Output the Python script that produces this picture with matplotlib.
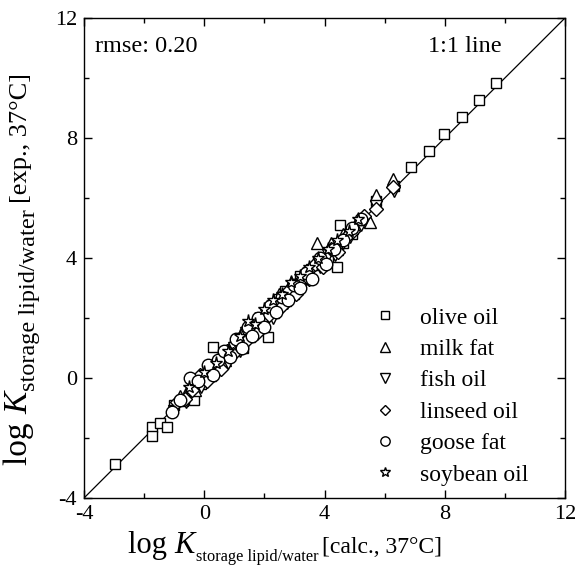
import matplotlib
matplotlib.use('Agg')
import matplotlib.pyplot as plt

plt.rcParams['font.family'] = ['Liberation Serif', 'DejaVu Serif']
plt.rcParams['axes.unicode_minus'] = False

# data: log K calc (x) vs exp (y)
olive_x = [-2.97, -1.74, -1.74, -1.47, -1.24, -1.0, -0.7, -0.41, -0.33, -0.1, 0.1, 0.3, 0.5, 0.8,
           1.1, 1.3, 1.5, 1.8, 2.13, 2.2, 2.5, 2.7, 3.0, 3.2, 3.5, 3.8, 4.1, 4.43, 4.53, 4.6, 4.9,
           5.2, 5.7, 6.3, 6.87, 7.46, 7.99, 8.57, 9.14, 9.72]
olive_y = [-2.85, -1.62, -1.93, -1.51, -1.62, -0.9, -0.75, -0.46, -0.73, -0.2, 0.05, 1.04, 0.4, 0.7,
           1.2, 1.0, 1.6, 1.6, 1.38, 2.3, 2.4, 2.9, 2.8, 3.4, 3.3, 3.9, 4.0, 3.71, 5.1, 4.5, 4.8,
           5.2, 5.9, 6.4, 7.04, 7.58, 8.13, 8.7, 9.27, 9.84]

milk_x = [-0.8, -0.5, -0.3, 0.0, 0.2, 0.5, 0.7, 0.9, 1.1, 1.3, 1.5, 1.7, 1.9, 2.1, 2.3, 2.5, 2.7,
          2.9, 3.1, 3.3, 3.5, 3.76, 3.9, 4.2, 4.4, 4.6, 4.9, 5.1, 5.53, 5.72, 6.29]
milk_y = [-0.6, -0.3, -0.4, 0.2, 0.1, 0.7, 0.6, 1.1, 1.0, 1.6, 1.4, 2.0, 1.8, 2.4, 2.2, 2.8, 2.6,
          3.2, 3.0, 3.5, 3.6, 4.49, 3.8, 4.5, 4.3, 4.8, 5.0, 5.3, 5.21, 6.1, 6.62]

fish_x = [-1.0, -0.6, -0.35, -0.1, 0.15, 0.4, 0.6, 0.8, 1.0, 1.2, 1.4, 1.65, 1.85, 2.05, 2.3, 2.5,
          2.75, 2.95, 3.15, 3.4, 3.6, 3.85, 4.1, 4.35, 4.6, 4.85, 5.2, 5.7, 6.3]
fish_y = [-1.1, -0.8, -0.2, -0.3, 0.0, 0.3, 0.6, 0.5, 1.0, 0.9, 1.5, 1.4, 1.8, 2.1, 2.0, 2.6,
          2.5, 3.0, 2.9, 3.3, 3.6, 3.7, 4.1, 4.1, 4.5, 4.7, 5.1, 5.75, 6.25]

linseed_x = [-0.9, -0.65, -0.4, -0.15, 0.1, 0.35, 0.55, 0.75, 0.95, 1.15, 1.35, 1.55, 1.75, 1.95,
             2.15, 2.35, 2.6, 2.8, 3.05, 3.25, 3.5, 3.7, 3.95, 4.2, 4.45, 4.7, 4.95, 5.3, 5.72, 6.29]
linseed_y = [-0.8, -0.7, -0.4, 0.1, -0.1, 0.5, 0.3, 0.9, 0.8, 1.3, 1.2, 1.7, 1.5, 2.0,
             2.1, 2.4, 2.4, 2.9, 2.8, 3.3, 3.3, 3.8, 3.7, 4.3, 4.2, 4.7, 4.9, 5.4, 5.62, 6.36]

goose_x = [-1.08, -0.8, -0.47, -0.2, 0.14, 0.3, 0.45, 0.65, 0.85, 1.05, 1.25, 1.45, 1.6, 1.8, 2.0,
           2.2, 2.4, 2.6, 2.8, 3.0, 3.2, 3.4, 3.6, 3.85, 4.05, 4.3, 4.6, 4.9, 5.2]
goose_y = [-1.12, -0.73, 0.0, -0.1, 0.43, 0.1, 0.6, 0.9, 0.7, 1.3, 1.0, 1.7, 1.4, 2.0, 1.7,
           2.4, 2.2, 2.7, 2.6, 3.1, 3.0, 3.5, 3.3, 4.0, 3.8, 4.3, 4.6, 5.0, 5.3]

soy_x = [-0.5, 0.0, 0.4, 0.8, 1.2, 1.45, 1.7, 2.0, 2.3, 2.6, 2.9, 3.2, 3.5, 3.8, 4.1, 4.4, 4.8, 5.1]
soy_y = [-0.3, 0.2, 0.5, 0.9, 1.4, 1.9, 1.8, 2.3, 2.6, 2.8, 3.2, 3.4, 3.7, 4.0, 4.3, 4.6, 4.9, 5.3]

series = [
    ('olive oil', olive_x, olive_y, 's', 7.5),
    ('milk fat', milk_x, milk_y, '^', 9),
    ('fish oil', fish_x, fish_y, 'v', 9),
    ('linseed oil', linseed_x, linseed_y, 'D', 7),
    ('goose fat', goose_x, goose_y, 'o', 9),
    ('soybean oil', soy_x, soy_y, '*', 9.5),
]

W, H = 576, 575
fig = plt.figure(figsize=(W / 100, H / 100), dpi=100)
ax = fig.add_axes([84 / W, 1 - 498 / H, 481 / W, 480 / H])

ax.plot([-4, 12], [-4, 12], color='black', lw=0.9, zorder=1)

for name, xs, ys, mk, ms in series:
    ax.plot(xs, ys, linestyle='none', marker=mk, ms=ms, mfc='white', mec='black',
            mew=1.0, label=name, zorder=2)

ax.set_xlim(-4, 12)
ax.set_ylim(-4, 12)
ax.set_xticks([-4, 0, 4, 8, 12])
ax.set_yticks([-4, 0, 4, 8, 12])
ax.set_xticks([-2, 2, 6, 10], minor=True)
ax.set_yticks([-2, 2, 6, 10], minor=True)
ax.tick_params(which='both', direction='in', top=True, right=True, width=1.0, labelsize=16)
ax.tick_params(which='major', length=6, pad=5)
ax.tick_params(which='minor', length=3.5)
for sp in ax.spines.values():
    sp.set_linewidth(1.0)

ax.text(95 / W, 1 - 52 / H, 'rmse: 0.20', transform=fig.transFigure, fontsize=17.5,
        va='baseline', ha='left')
ax.text(502 / W, 1 - 52 / H, '1:1 line', transform=fig.transFigure, fontsize=17.5,
        va='baseline', ha='right')

ax.legend(loc='upper left', bbox_to_anchor=(373 / W, 1 - 307 / H), bbox_transform=fig.transFigure,
          frameon=False, fontsize=17, handlelength=1.0, handletextpad=1.0, labelspacing=0.42,
          borderpad=0, borderaxespad=0, markerscale=0.75)


def place_pieces(pieces, x0, y0, vertical=False):
    # lay text pieces one after another, measuring each rendered piece
    r = fig.canvas.get_renderer()
    pos = x0 if not vertical else y0
    for txt, size, style, shift, gap in pieces:
        pos += gap
        if vertical:
            t = fig.text((x0 + shift) / W, pos / H, txt, fontsize=size, style=style,
                         ha='left', va='baseline', rotation=90, rotation_mode='anchor')
            pos = t.get_window_extent(r).y1
        else:
            t = fig.text(pos / W, (y0 - shift) / H, txt, fontsize=size, style=style,
                         ha='left', va='baseline')
            pos = t.get_window_extent(r).x1


fig.canvas.draw()
# x label (pixel coords from bottom)
place_pieces([('log ', 22, 'normal', 0, 0), ('K', 22, 'italic', 0, 0),
              ('storage lipid/water', 11.8, 'normal', 8, 1), ('[calc., 37°C]', 17, 'normal', 0, 4)],
             128, H - 553)
# y label
place_pieces([('log ', 24, 'normal', 0, 0), ('K', 24, 'italic', 0, 0),
              ('storage lipid/water', 17.5, 'normal', 8, 1), ('[exp., 37°C]', 19, 'normal', 0, 6)],
             27, H - 465, vertical=True)

fig.savefig('out.png', dpi=100)
